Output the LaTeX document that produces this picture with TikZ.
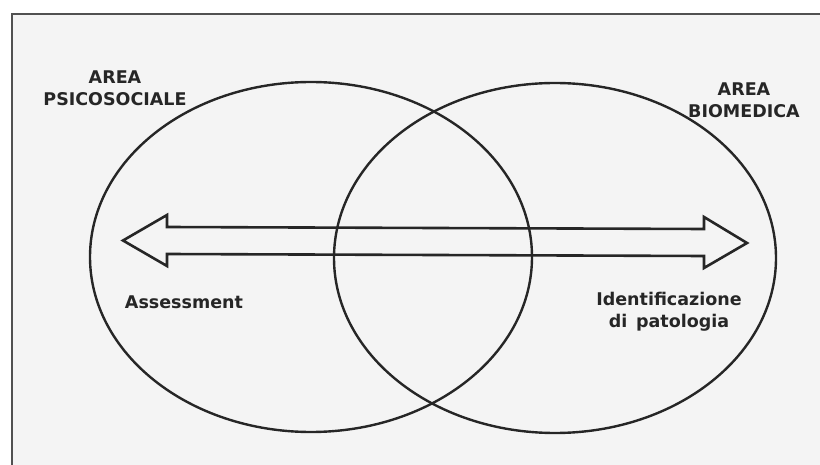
\documentclass[tikz,border=0pt]{standalone}
\usepackage{fontspec}
\setmainfont{DejaVu Sans}
\usetikzlibrary{shapes.geometric}
\definecolor{bgc}{HTML}{F4F4F4}
\definecolor{ink}{HTML}{262626}
\tikzset{
  area/.style={ellipse, draw=ink, line width=2.4pt, inner sep=0pt, minimum width=442pt, minimum height=350pt},
  lbl/.style={text=ink, font=\bfseries\fontsize{17.5}{22}\selectfont, align=center, inner sep=0pt},
  frame/.style={draw=ink!80, line width=2pt},
  blockarrow/.style={draw=ink, line width=2.6pt, line join=miter}
}
\begin{document}
\begin{tikzpicture}[x=1pt,y=-1pt]
\useasboundingbox (0,0) rectangle (820,465);
\fill[white] (0,0) rectangle (820,465);
\fill[bgc] (12,14) rectangle (820,465);
\draw[frame] (12,470) -- (12,14) -- (830,14);
\node[area] (psico) at (311,257) {};
\node[area] (bio) at (555,258) {};
\draw[blockarrow] (123,240.5) -- (167,215) -- (167,227) -- (704,229) -- (704,217)
  -- (747,243) -- (704,268) -- (704,256) -- (167,254) -- (167,266) -- cycle;
\node[lbl] (lpsico) at (115,88) {AREA\\PSICOSOCIALE};
\node[lbl] (lbio) at (744,100) {AREA\\BIOMEDICA};
\node[lbl] (lass) at (184,302) {Assessment};
\node[lbl] (lid) at (669,312) {Identificazione\\di\enspace patologia};
\end{tikzpicture}
\end{document}
